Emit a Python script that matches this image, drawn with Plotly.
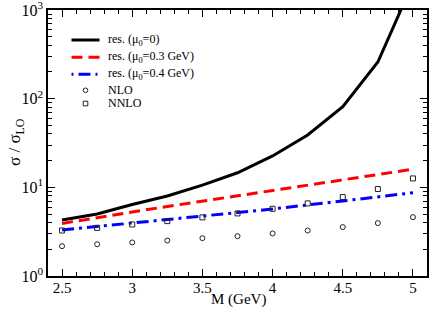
import plotly.graph_objects as go

M = [2.5, 2.75, 3.0, 3.25, 3.5, 3.75, 4.0, 4.25, 4.5, 4.75, 5.0]
res_mu0 = [4.27, 5.0, 6.4, 8.0, 10.6, 14.6, 22.6, 39.0, 81.0, 259.0, 2030.0]
res_mu03 = [3.92, 4.57, 5.27, 6.08, 6.97, 8.0, 9.14, 10.5, 12.0, 13.9, 16.0]
res_mu04 = [3.3, 3.6, 3.95, 4.3, 4.7, 5.2, 5.7, 6.3, 7.0, 7.8, 8.7]
nlo = [2.17, 2.28, 2.39, 2.51, 2.67, 2.81, 3.02, 3.26, 3.56, 3.95, 4.61]
nnlo = [3.26, 3.49, 3.81, 4.16, 4.58, 5.08, 5.73, 6.59, 7.77, 9.57, 12.6]

xtick_vals = [2.5, 3, 3.5, 4, 4.5, 5]
xtick_text = ["2.5", "3", "3.5", "4", "4.5", "5"]
ytick_vals = [1, 10, 100, 1000]
ytick_text = ["10<sup>0</sup>", "10<sup>1</sup>", "10<sup>2</sup>", "10<sup>3</sup>"]
ymajor_decades = [1, 10, 100]
yminor_mult = [2, 3, 4, 5, 6, 7, 8, 9]
yminor_vals = [d * m for d in ymajor_decades for m in yminor_mult]

names = ["res. (μ<sub>0</sub>=0)", "res. (μ<sub>0</sub>=0.3 GeV)",
         "res. (μ<sub>0</sub>=0.4 GeV)", "NLO", "NNLO"]

FONT = "Liberation Serif"
RED_DASH = "11px,6px"
BLUE_DASH = "12px,5px,3px,5px"

fig = go.Figure()
fig.add_trace(go.Scatter(x=M, y=res_mu0, mode="lines", name=names[0],
                         line=dict(color="black", width=3)))
fig.add_trace(go.Scatter(x=M, y=res_mu03, mode="lines", name=names[1],
                         line=dict(color="red", width=3, dash=RED_DASH)))
fig.add_trace(go.Scatter(x=M, y=res_mu04, mode="lines", name=names[2],
                         line=dict(color="blue", width=3, dash=BLUE_DASH)))
fig.add_trace(go.Scatter(x=M, y=nlo, mode="markers", name=names[3],
                         marker=dict(symbol="circle-open", size=5, color="#222", line=dict(width=1))))
fig.add_trace(go.Scatter(x=M, y=nnlo, mode="markers", name=names[4],
                         marker=dict(symbol="square-open", size=5, color="#222", line=dict(width=1))))

FIG_W, FIG_H = 429, 310
L, T, W, H = 48, 10, 379, 266   # plot area in pixels
def px(x):
    return (x - L) / W
def py(y):
    return 1 - (y - T) / H

rows = [40, 57.3, 74.3, 90.3, 103.5]
shapes = []
annotations = []
line_styles = [dict(color="black", width=3),
               dict(color="red", width=3, dash=RED_DASH),
               dict(color="blue", width=3, dash="2px,5px,12px,5px")]
for i in range(3):
    shapes.append(dict(type="line", xref="paper", yref="paper",
                       x0=px(71.5), x1=px(99.5), y0=py(rows[i]), y1=py(rows[i]),
                       line=line_styles[i]))
shapes.append(dict(type="circle", xref="paper", yref="paper", xsizemode="pixel", ysizemode="pixel",
                   xanchor=px(85.5), yanchor=py(rows[3]), x0=-2.3, x1=2.3, y0=-2.3, y1=2.3,
                   line=dict(color="#222", width=1)))
shapes.append(dict(type="rect", xref="paper", yref="paper", xsizemode="pixel", ysizemode="pixel",
                   xanchor=px(85.5), yanchor=py(rows[4]), x0=-2.3, x1=2.3, y0=-2.3, y1=2.3,
                   line=dict(color="#222", width=1)))
for i in range(5):
    annotations.append(dict(text=names[i], xref="paper", yref="paper", x=px(105.5), y=py(rows[i]),
                            xanchor="left", yanchor="middle", showarrow=False,
                            font=dict(family=FONT, size=12, color="black")))

# axis titles
annotations.append(dict(text="M (GeV)", xref="paper", yref="paper", x=px(238), y=py(299),
                        xanchor="center", yanchor="middle", showarrow=False,
                        font=dict(family=FONT, size=15, color="black")))
annotations.append(dict(text="σ / σ<sub>LO</sub>", xref="paper", yref="paper", x=px(16), y=py(142),
                        xanchor="center", yanchor="middle", showarrow=False, textangle=-90,
                        font=dict(family=FONT, size=17, color="black")))

axis_common = dict(showline=True, linecolor="black", linewidth=1.5, mirror="ticks",
                   ticks="inside", ticklen=7, tickwidth=1.2, tickcolor="black",
                   showgrid=False, zeroline=False, automargin=False,
                   ticklabeloverflow="allow")

fig.update_layout(
    width=FIG_W, height=FIG_H,
    margin=dict(l=L, r=FIG_W - L - W, t=T, b=FIG_H - T - H),
    paper_bgcolor="white", plot_bgcolor="white",
    font=dict(family=FONT, color="black"),
    showlegend=False,
    shapes=shapes, annotations=annotations,
    xaxis=dict(range=[2.4, 5.1], tickvals=xtick_vals, ticktext=xtick_text,
               tickfont=dict(family=FONT, size=15, color="black"),
               ticklabelstandoff=-3,
               minor=dict(dtick=0.1, ticks="inside", ticklen=4, tickwidth=1, tickcolor="black", showgrid=False),
               **axis_common),
    yaxis=dict(type="log", range=[0, 3], tickvals=ytick_vals, ticktext=ytick_text,
               tickfont=dict(family=FONT, size=16, color="black"),
               minor=dict(tickvals=yminor_vals, ticks="inside", ticklen=4, tickwidth=1,
                          tickcolor="black", showgrid=False),
               **axis_common),
)

fig.write_html("out.html", config={"displayModeBar": False},
               post_script="document.body.style.margin='0';document.body.style.overflow='hidden';")
